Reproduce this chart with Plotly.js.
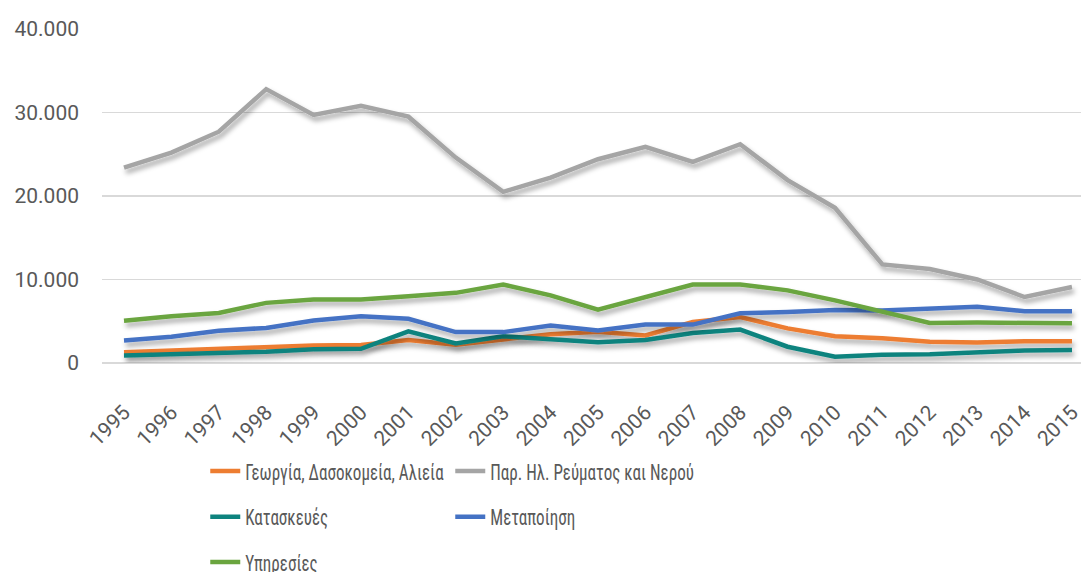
<!DOCTYPE html>
<html>
<head>
<meta charset="utf-8">
<script src="https://cdn.plot.ly/plotly-3.0.1.min.js"></script>
<style>
  html, body { margin: 0; padding: 0; background: #fff; }
  #chart { width: 1086px; height: 572px; }
  .scatterlayer .trace .js-line { filter: url(#lineShadow); }
</style>
</head>
<body>
<svg width="0" height="0" style="position:absolute">
  <defs>
    <filter id="lineShadow" x="-10%" y="-10%" width="120%" height="140%">
      <feDropShadow dx="2" dy="4" stdDeviation="2.5" flood-color="#000" flood-opacity="0.35"/>
    </filter>
  </defs>
</svg>
<div id="chart"></div>
<script>
const years = [1995,1996,1997,1998,1999,2000,2001,2002,2003,2004,2005,2006,2007,2008,2009,2010,2011,2012,2013,2014,2015];
const yearLabels = years.map(String);

const georgia   = [1300,1500,1750,1900,2100,2150,2750,2200,2800,3450,3750,3300,4900,5500,4150,3200,2950,2550,2450,2600,2600];
const revma     = [23400,25200,27700,32800,29700,30800,29500,24600,20500,22200,24400,25900,24100,26200,21900,18600,11800,11250,10000,7900,9100];
const kataskeves= [900,1050,1300,1350,1650,1700,3800,2350,3200,2800,2500,2750,3600,4000,1950,750,1000,1050,1300,1500,1550];
const metapoiisi= [2700,3150,3850,4200,5100,5600,5300,3700,3700,4500,3900,4600,4600,5950,6100,6350,6300,6550,6750,6200,6200];
const ypiresies = [5050,5600,6000,7200,7600,7600,8000,8400,9400,8100,6400,7900,9400,9400,8700,7500,6150,4800,4850,4850,4750];

const names = ['Γεωργία, Δασοκομεία, Αλιεία','Παρ. Ηλ. Ρεύματος και Νερού','Κατασκευές','Μεταποίηση','Υπηρεσίες'];
const colors = ['#ED7D31','#A5A5A5','#0E837E','#4472C4','#6AA53F'];

const FONT = 'Roboto, Liberation Sans, sans-serif';
const LEGEND_FONT = 'Roboto Condensed, Liberation Sans Narrow, DejaVu Sans Condensed, Roboto, sans-serif';

function tr(y, i, legend) {
  return {
    x: years, y: y, name: names[i], type: 'scatter', mode: 'lines',
    line: {color: colors[i], width: 4.5},
    legend: legend
  };
}

const data = [
  tr(georgia, 0, 'legend'),
  tr(revma, 1, 'legend2'),
  tr(kataskeves, 2, 'legend3'),
  tr(metapoiisi, 3, 'legend4'),
  tr(ypiresies, 4, 'legend5')
];

const legendBase = {
  orientation: 'h', xref: 'container', yref: 'container',
  xanchor: 'left', yanchor: 'top',
  font: {family: LEGEND_FONT, size: 22, color: '#595959'},
  bgcolor: 'rgba(0,0,0,0)', itemwidth: 30
};
const col1 = 0.189, col2 = 0.4146;
const row1 = 0.213, row2 = 0.133, row3 = 0.054;

const layout = {
  width: 1086, height: 572,
  margin: {l: 102, r: 5, t: 29, b: 209},
  paper_bgcolor: '#fff', plot_bgcolor: '#fff',
  separators: ',.',
  showlegend: true,
  xaxis: {
    range: [1994.536, 2015.19],
    tickvals: years, ticktext: yearLabels,
    tickangle: -45,
    showgrid: false, zeroline: false,
    showline: false,
    ticks: '', ticklabelstandoff: 32,
    tickfont: {family: FONT, size: 21, color: '#595959'}
  },
  yaxis: {
    range: [0, 40000], dtick: 10000, tick0: 0,
    tickformat: ',d',
    showgrid: true, gridcolor: '#D9D9D9', gridwidth: 1.3,
    zeroline: true, zerolinecolor: '#D9D9D9', zerolinewidth: 1.3,
    showline: false, ticks: '', ticklabelstandoff: 22,
    tickfont: {family: FONT, size: 21, color: '#595959'}
  },
  legend:  Object.assign({}, legendBase, {x: col1, y: row1}),
  legend2: Object.assign({}, legendBase, {x: col2, y: row1}),
  legend3: Object.assign({}, legendBase, {x: col1, y: row2}),
  legend4: Object.assign({}, legendBase, {x: col2, y: row2}),
  legend5: Object.assign({}, legendBase, {x: col1, y: row3})
};

function condenseLegendText() {
  document.querySelectorAll('#chart text').forEach(function (el) {
    if (names.indexOf(el.textContent) >= 0) {
      const x0 = parseFloat(el.getAttribute('x')) || 40;
      el.style.transformBox = 'view-box';
      el.style.transformOrigin = x0 + 'px 0px';
      el.style.transform = 'scaleX(0.775)';
    }
  });
}

Plotly.newPlot('chart', data, layout, {displayModeBar: false, staticPlot: true}).then(condenseLegendText);
</script>
</body>
</html>
